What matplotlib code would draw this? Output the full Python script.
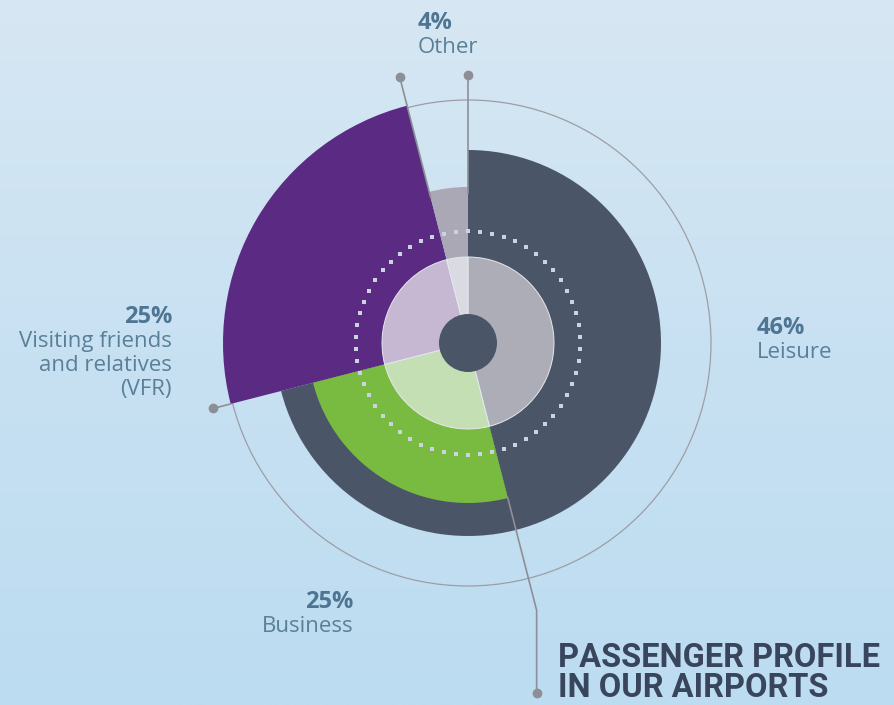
import numpy as np
import matplotlib.pyplot as plt
from matplotlib.patches import Wedge, Circle
from matplotlib.colors import LinearSegmentedColormap

# passenger profile: share of passengers by purpose of trip
categories = ['Leisure', 'Business', 'Visiting friends\nand relatives\n(VFR)', 'Other']
shares = [46, 25, 25, 4]
pct_labels = ['46%', '25%', '25%', '4%']

# look of each segment
outer_r = [193, 193, 245, 156]
outer_colors = ['#4a5668', '#4a5668', '#5b2a83', '#a9a8b4']
mid_r = [0, 160, 0, 0]
mid_colors = ['#4a5668', '#79bb41', '#5b2a83', '#a9a8b4']
inner_colors = ['#adadb7', '#c5dfb5', '#c6b8d3', '#dadae2']
lead_start = [150, 160, 245, 150]
lead_r = [268, 276, 263, 275]

cx, cy = 468, 343
W, H = 894, 705

fig = plt.figure(figsize=(W / 100, H / 100), dpi=100)
ax = fig.add_axes([0, 0, 1, 1])
ax.set_xlim(0, W)
ax.set_ylim(H, 0)
ax.axis('off')

# background
bg = LinearSegmentedColormap.from_list('bg', ['#d7e7f3', '#c8e1f2', '#bcdcf1'])
grad = np.linspace(0, 1, 256).reshape(-1, 1)
ax.imshow(grad, cmap=bg, extent=[0, W, H, 0], aspect='auto', zorder=0)

bounds = np.concatenate([[0], np.cumsum(shares)]) / 100 * 360


def pt(a, r):
    a = np.radians(a)
    return cx + r * np.sin(a), cy - r * np.cos(a)


# thin outline ring
ax.add_patch(Circle((cx, cy), 243, fill=False, ec='#9d9ea5', lw=0.9, zorder=1))

for i in range(len(shares)):
    t1, t2 = bounds[i] - 90, bounds[i + 1] - 90
    ax.add_patch(Wedge((cx, cy), outer_r[i], t1, t2, fc=outer_colors[i],
                       ec='none', zorder=2))
    if mid_r[i]:
        ax.add_patch(Wedge((cx, cy), mid_r[i], t1, t2, fc=mid_colors[i],
                           ec='none', zorder=3))

# dotted ring
ang = np.linspace(0, 360, 58, endpoint=False)
dx, dy = pt(ang, 112)
ax.scatter(dx, dy, s=6.5, marker='s', c='#cbd3df', lw=0, zorder=4)

# inner ring
for i in range(len(shares)):
    t1, t2 = bounds[i] - 90, bounds[i + 1] - 90
    ax.add_patch(Wedge((cx, cy), 86, t1, t2, fc=inner_colors[i],
                       ec='#e4e8ee', lw=0.7, zorder=5))
ax.add_patch(Circle((cx, cy), 29, fc='#4a5668', ec='none', zorder=6))

# leader lines
lc = '#8e8f96'
for i in range(len(shares)):
    a = bounds[i]
    x0, y0 = pt(a, lead_start[i])
    x1, y1 = pt(a, lead_r[i])
    if i == 1:
        ax.plot([x0, x1, x1], [y0, y1, 693], color=lc, lw=1.2, zorder=7)
        ax.plot(x1, 693, 'o', ms=6, color=lc, zorder=7)
    else:
        ax.plot([x0, x1], [y0, y1], color=lc, lw=1.2, zorder=7)
        ax.plot(x1, y1, 'o', ms=6, color=lc, zorder=7)

# labels
pct_col = '#4e7592'
lab_col = '#5a7f98'
label_pos = [(757, 334, 'left'), (353, 608, 'right'),
             (172, 323, 'right'), (418, 29, 'left')]
for i, (x, y, ha) in enumerate(label_pos):
    ax.text(x, y, pct_labels[i], ha=ha, va='baseline', fontsize=17,
            fontweight='bold', color=pct_col, family='Open Sans', zorder=8)
    for k, line in enumerate(categories[i].split('\n')):
        ax.text(x, y + 24 * (k + 1), line, ha=ha, va='baseline', fontsize=16,
                color=lab_col, family='Open Sans', zorder=8)

title = ['PASSENGER PROFILE', 'IN OUR AIRPORTS']
for k, line in enumerate(title):
    ax.text(558, 667 + 30 * k, line, ha='left', va='baseline', fontsize=23.5,
            fontweight='bold', color='#38455b', family='Roboto', zorder=8)

fig.savefig('out.png', dpi=100)
